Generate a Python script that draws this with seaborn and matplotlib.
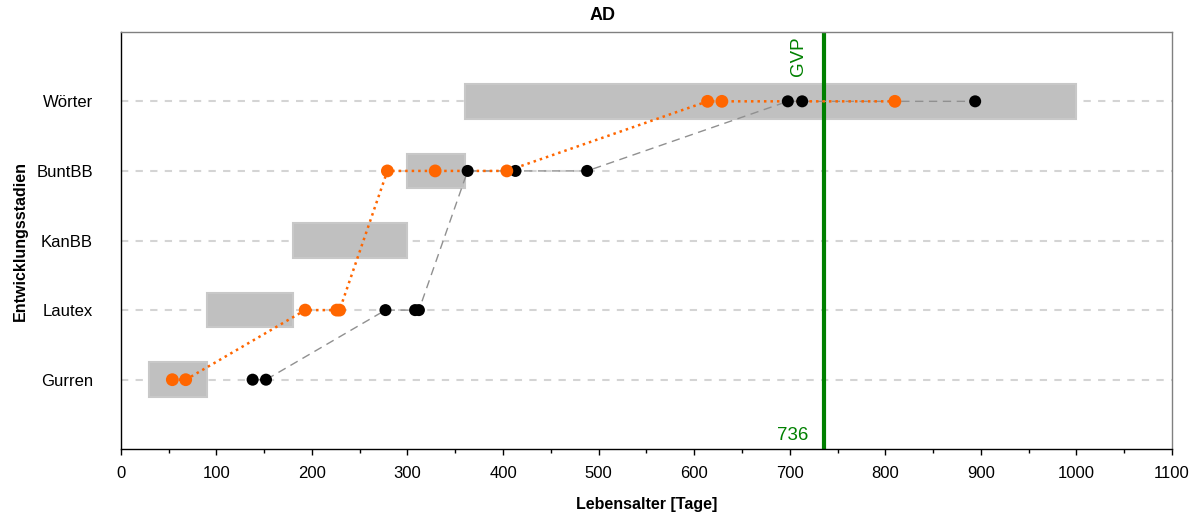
import numpy as np
import pandas as pd
import matplotlib
matplotlib.use("Agg")
import matplotlib.pyplot as plt
import seaborn as sns
from matplotlib.ticker import MultipleLocator

# ── Daten ──────────────────────────────────────────────────────────────
stages    = ["Gurren", "Lautex", "KanBB", "BuntBB", "Wörter"]
bar_start = [30, 90, 180, 300, 360]
bar_end   = [90, 180, 300, 360, 1000]

orange_stage = ["Gurren", "Gurren", "Lautex", "Lautex", "Lautex",
                "BuntBB", "BuntBB", "BuntBB", "Wörter", "Wörter", "Wörter"]
orange_age   = [54, 68, 193, 226, 229, 279, 329, 404, 614, 629, 810]

black_stage  = ["Gurren", "Gurren", "Lautex", "Lautex", "Lautex",
                "BuntBB", "BuntBB", "BuntBB", "Wörter", "Wörter", "Wörter"]
black_age    = [138, 152, 277, 308, 312, 363, 413, 488, 698, 713, 894]

gvp = 736

# ── Aufbereitung ───────────────────────────────────────────────────────
ypos = {s: i + 1 for i, s in enumerate(stages)}
df_o = pd.DataFrame({"age": orange_age, "y": [ypos[s] for s in orange_stage]})
df_b = pd.DataFrame({"age": black_age,  "y": [ypos[s] for s in black_stage]})

# ── Plot ───────────────────────────────────────────────────────────────
sns.set_style("white")
plt.rcParams["font.family"] = ["Liberation Sans", "DejaVu Sans"]
plt.rcParams.update({"text.color": "black", "axes.labelcolor": "black",
                     "xtick.color": "black", "ytick.color": "black"})

fig = plt.figure(figsize=(12, 5.12), dpi=100)
ax = fig.add_axes([0.1006, 0.1225, 0.8761, 0.8155])

for y in range(1, 6):
    ax.axhline(y, color="#d4d4d4", lw=1.5, ls=(0, (3.5, 3.5)), zorder=0)

ax.barh([ypos[s] for s in stages],
        [e - s for s, e in zip(bar_start, bar_end)],
        left=bar_start, height=0.5, color="#c0c0c0",
        edgecolor="#c8c8c8", linewidth=1.5, zorder=1)

ax.axvline(gvp, color="#008000", lw=3, zorder=2)

sns.lineplot(data=df_b, x="age", y="y", sort=False, estimator=None,
             color="#909090", lw=1, ls=(0, (6, 4)), ax=ax, zorder=3)
sns.lineplot(data=df_o, x="age", y="y", sort=False, estimator=None,
             color="#ff6600", lw=1.8, ls=(0, (1, 1.6)), ax=ax, zorder=3)
sns.scatterplot(data=df_b, x="age", y="y", color="black", s=75,
                edgecolor="none", ax=ax, zorder=4)
sns.scatterplot(data=df_o, x="age", y="y", color="#ff6600", s=85,
                edgecolor="none", ax=ax, zorder=4)

ax.annotate("GVP", xy=(gvp, 6), xytext=(-12, -3), textcoords="offset points",
            rotation=90, ha="right", va="top", color="#008000", fontsize=13.5)
ax.annotate(str(gvp), xy=(gvp, 0), xytext=(-11, 4), textcoords="offset points",
            ha="right", va="bottom", color="#008000", fontsize=13.5)

ax.set_xlim(0, 1100)
ax.set_ylim(0, 6)
ax.xaxis.set_major_locator(MultipleLocator(100))
ax.xaxis.set_minor_locator(MultipleLocator(50))
ax.set_yticks(range(1, 6))
ax.set_yticklabels(stages)
ax.tick_params(axis="x", which="major", direction="out", length=4, width=1,
               color="black", labelsize=12, pad=8, bottom=True)
ax.tick_params(axis="x", which="minor", direction="out", length=3, width=1,
               color="black", bottom=True)
ax.tick_params(axis="y", length=0, labelsize=12, pad=20)

for side in ["left", "bottom"]:
    ax.spines[side].set_color("black")
    ax.spines[side].set_linewidth(1)
for side in ["top", "right"]:
    ax.spines[side].set_color("#808080")
    ax.spines[side].set_linewidth(1)

ax.set_xlabel("Lebensalter [Tage]", fontsize=11.5, fontweight="bold")
ax.set_ylabel("Entwicklungsstadien", fontsize=11.5, fontweight="bold")
ax.xaxis.set_label_coords(0.5, -0.115)
ax.yaxis.set_label_coords(-0.088, 0.5)
fig.text(603 / 1200, 1 - 16 / 512, "AD", ha="center", va="center",
         fontsize=13, fontweight="bold")

fig.savefig("out.png", dpi=100)
